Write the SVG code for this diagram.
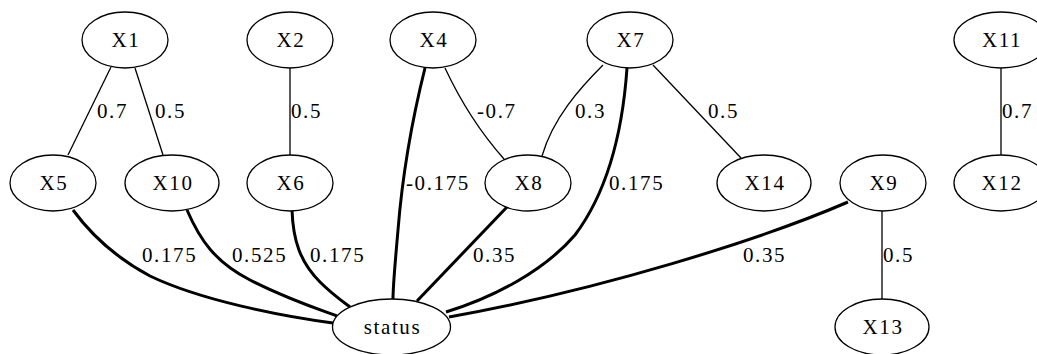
<svg xmlns="http://www.w3.org/2000/svg" width="1037" height="354" viewBox="0 0 1037 354" font-family="Liberation Serif, Times New Roman, serif" font-size="21">
<style>
  .node ellipse { fill: #ffffff; stroke: #000000; stroke-width: 1.3; }
  .node text { text-anchor: middle; }
  .edge path { fill: none; stroke: #000000; }
  .thin { stroke-width: 1.3; }
  .thick { stroke-width: 3; }
</style>
<rect x="0" y="0" width="1037" height="354" fill="#ffffff"/>
<g id="edges" class="edge" letter-spacing="1.6">
  <path class="thin" d="M111,67 L68,155"/>
  <path class="thin" d="M135,68 L163,155"/>
  <path class="thin" d="M290,68 L290,155"/>
  <path class="thin" d="M445,68 C460,100 480,132 504,159"/>
  <path class="thin" d="M603,65 C580,88 553,118 542,156"/>
  <path class="thin" d="M653,65 L741,158"/>
  <path class="thin" d="M1001,68 L1001,155"/>
  <path class="thin" d="M882,211 L882,299"/>
  <path class="thick" d="M73,210 C95,240 120,260 150,276 C200,300 280,316 333,323"/>
  <path class="thick" d="M187,210 C200,240 215,262 250,280 C285,298 315,308 337,316"/>
  <path class="thick" d="M292,210 C293,240 300,262 320,282 C332,294 342,301 350,307"/>
  <path class="thick" d="M425,68 C412,120 402,180 398,230 C395,265 393,285 393,299"/>
  <path class="thick" d="M507,207 L417,301"/>
  <path class="thick" d="M627,68 C622,140 605,195 575,235 C545,270 495,297 446,312"/>
  <path class="thick" d="M848,202 C760,240 600,290 449,317"/>
  <text x="97" y="118">0.7</text>
  <text x="155" y="118">0.5</text>
  <text x="291" y="118">0.5</text>
  <text x="477" y="118">-0.7</text>
  <text x="575" y="118">0.3</text>
  <text x="708" y="118">0.5</text>
  <text x="1002" y="118">0.7</text>
  <text x="406" y="190">-0.175</text>
  <text x="609" y="190">0.175</text>
  <text x="142" y="262">0.175</text>
  <text x="232" y="262">0.525</text>
  <text x="310" y="262">0.175</text>
  <text x="473" y="262">0.35</text>
  <text x="743" y="262">0.35</text>
  <text x="883" y="262">0.5</text>
</g>
<g id="X1" class="node" letter-spacing="1.6"><ellipse cx="125" cy="40" rx="43" ry="28"/><text x="126" y="47">X1</text></g>
<g id="X2" class="node" letter-spacing="1.6"><ellipse cx="290" cy="40" rx="43" ry="28"/><text x="291" y="47">X2</text></g>
<g id="X4" class="node" letter-spacing="1.6"><ellipse cx="433" cy="40" rx="43" ry="28"/><text x="434" y="47">X4</text></g>
<g id="X7" class="node" letter-spacing="1.6"><ellipse cx="630" cy="40" rx="43" ry="28"/><text x="631" y="47">X7</text></g>
<g id="X11" class="node" letter-spacing="1.6"><ellipse cx="1001" cy="40" rx="47" ry="28"/><text x="1002" y="47">X11</text></g>
<g id="X5" class="node" letter-spacing="1.6"><ellipse cx="53" cy="183" rx="43" ry="28"/><text x="54" y="190">X5</text></g>
<g id="X10" class="node" letter-spacing="1.6"><ellipse cx="172" cy="183" rx="47" ry="28"/><text x="173" y="190">X10</text></g>
<g id="X6" class="node" letter-spacing="1.6"><ellipse cx="290" cy="183" rx="43" ry="28"/><text x="291" y="190">X6</text></g>
<g id="X8" class="node" letter-spacing="1.6"><ellipse cx="528" cy="183" rx="43" ry="28"/><text x="529" y="190">X8</text></g>
<g id="X14" class="node" letter-spacing="1.6"><ellipse cx="764" cy="183" rx="47" ry="28"/><text x="765" y="190">X14</text></g>
<g id="X9" class="node" letter-spacing="1.6"><ellipse cx="883" cy="183" rx="43" ry="28"/><text x="884" y="190">X9</text></g>
<g id="X12" class="node" letter-spacing="1.6"><ellipse cx="1001" cy="183" rx="47" ry="28"/><text x="1002" y="190">X12</text></g>
<g id="status" class="node" letter-spacing="1.6"><ellipse cx="391.5" cy="327" rx="59" ry="28"/><text x="392.5" y="334">status</text></g>
<g id="X13" class="node" letter-spacing="1.6"><ellipse cx="882" cy="327" rx="47" ry="28"/><text x="883" y="334">X13</text></g>
</svg>
